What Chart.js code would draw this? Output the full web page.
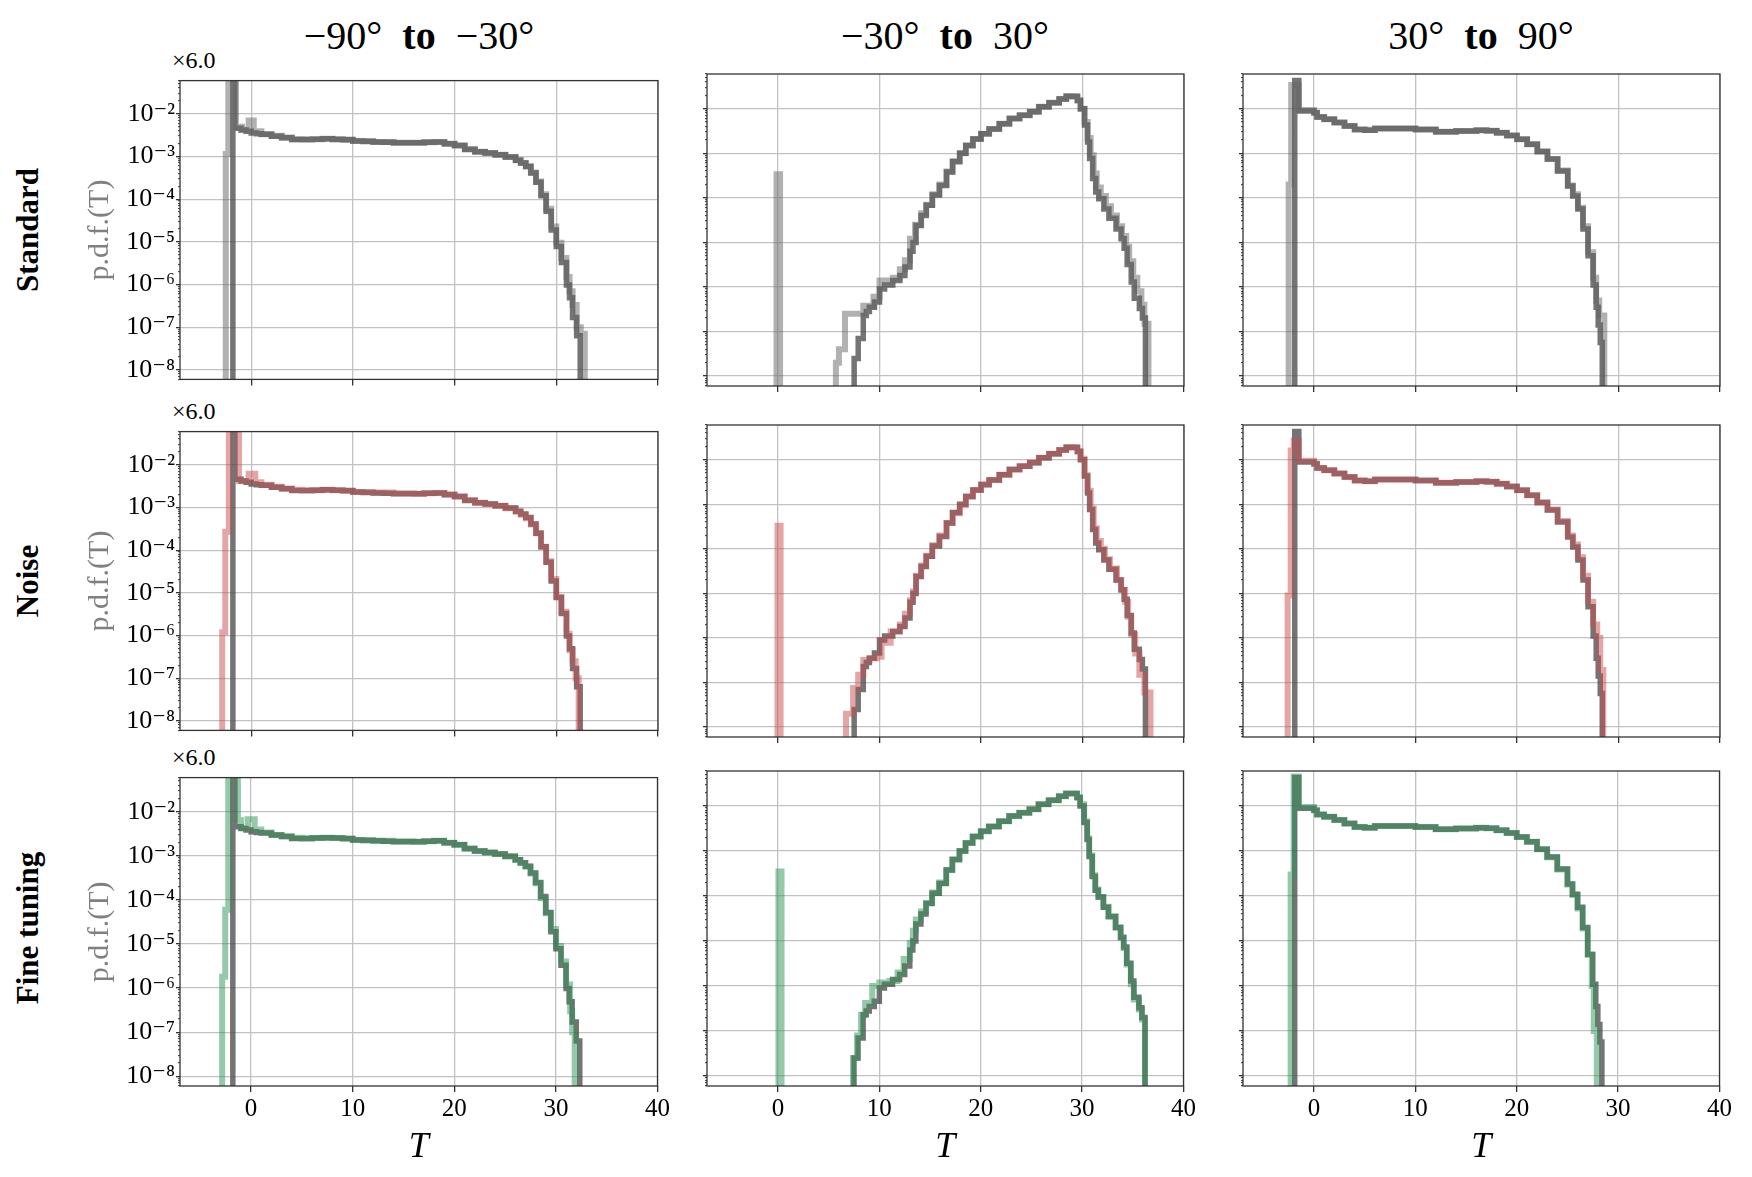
<!DOCTYPE html>
<html><head><meta charset="utf-8">
<script src="https://cdn.jsdelivr.net/npm/chart.js@4.4.1/dist/chart.umd.min.js"></script>
<style>
html,body{margin:0;padding:0;background:#fff;}
#fig{position:relative;width:1752px;height:1177px;overflow:hidden;background:#fff;}
#fig canvas{position:absolute;}
.coltitle{position:absolute;top:12px;font-family:'Liberation Serif','DejaVu Serif',serif;font-size:40px;line-height:48px;color:#000;white-space:nowrap;transform:translateX(-50%);}
.coltitle b{font-weight:bold;margin:0 20px;}
.rowlab{position:absolute;font-family:'Liberation Serif','DejaVu Serif',serif;font-weight:bold;font-size:31px;line-height:36px;white-space:nowrap;color:#000;transform:translate(-50%,-50%) rotate(-90deg);}
.offset{position:absolute;left:172px;font-family:'Liberation Serif','DejaVu Serif',serif;font-size:24px;line-height:24px;color:#000;white-space:nowrap;}
</style></head>
<body>
<div id="fig">
  <div class="coltitle" style="left:419px">−90°<b>to</b>−30°</div>
  <div class="coltitle" style="left:945px">−30°<b>to</b>30°</div>
  <div class="coltitle" style="left:1481px">30°<b>to</b>90°</div>
  <div class="rowlab" style="left:28px;top:230px">Standard</div>
  <div class="rowlab" style="left:28px;top:581px">Noise</div>
  <div class="rowlab" style="left:28px;top:928px">Fine tuning</div>
  <div class="offset" style="top:48px">×6.0</div>
  <div class="offset" style="top:399px">×6.0</div>
  <div class="offset" style="top:745px">×6.0</div>
</div>
<script>
// ---------------- data ----------------
// x tick values / labels
const xTicks = [0, 10, 20, 30, 40];
const xTickLabels = ['0', '10', '20', '30', '40'];
// y decade ticks / labels
const yDecades = [1e-8, 1e-7, 1e-6, 1e-5, 1e-4, 1e-3, 1e-2];
const yTickLabels = ['10⁻⁸', '10⁻⁷', '10⁻⁶', '10⁻⁵', '10⁻⁴', '10⁻³', '10⁻²'];

// Column A: -90° to -30°  (T = bin edges, p = p.d.f. value of the bin starting at that edge; 0 = empty)
const refA_T = [-1.8,-1.6,-1.0,-0.5,0,0.5,1,2,3,4,5,6,7,8,9,10,11,12,13,14,15,16,17,18,19,20,21,22,23,24,25,26,26.5,27,27.5,28,28.5,29,29.5,30,30.5,31,31.3,31.6,32,32.35];
const refA_p = [0.1,4.6e-3,4.2e-3,3.9e-3,3.55e-3,3.4e-3,3.3e-3,3.0e-3,2.75e-3,2.5e-3,2.5e-3,2.55e-3,2.6e-3,2.55e-3,2.5e-3,2.3e-3,2.25e-3,2.2e-3,2.15e-3,2.1e-3,2.1e-3,2.1e-3,2.15e-3,2.2e-3,2.0e-3,1.8e-3,1.45e-3,1.3e-3,1.2e-3,1.1e-3,9.8e-4,8.2e-4,7e-4,5.8e-4,4.1e-4,2.5e-4,1.2e-4,5.2e-5,1.9e-5,7.8e-6,3.3e-6,9.8e-7,4.9e-7,1.7e-7,6.3e-8,0];

const stdA_T = [-2.5,-2.25,-1.5,-0.9,-0.25,0.25,1,2,3,4,5,6,7,8,9,10,12,14,16,17,18,19,20,21,22,23,24,25,26,26.5,27,27.5,28,28.5,29,29.5,30,30.5,31,31.3,31.6,32.0,32.4,32.8];
const stdA_p = [1.15e-3,0.1,5.0e-3,4.3e-3,7.0e-3,3.9e-3,3.3e-3,3.05e-3,2.8e-3,2.55e-3,2.5e-3,2.55e-3,2.6e-3,2.5e-3,2.45e-3,2.3e-3,2.2e-3,2.1e-3,2.1e-3,2.15e-3,2.2e-3,2.0e-3,1.8e-3,1.5e-3,1.3e-3,1.2e-3,1.1e-3,9.8e-4,8.2e-4,7e-4,5.9e-4,4.2e-4,2.6e-4,1.3e-4,6e-5,2.3e-5,9.5e-6,4.2e-6,1.5e-6,7e-7,3.3e-7,1.0e-7,7e-8,0];

const noiseA_T = [-2.85,-2.55,-2.2,-1.2,-0.25,0.4,1,2,3,4,5,6,7,8,9,10,12,14,16,17,18,19,20,21,22,23,24,25,26,26.5,27,27.5,28,28.5,29,29.5,30,30.5,31,31.3,31.6,31.9,32.2];
const noiseA_p = [1.2e-6,2.7e-4,0.1,4.2e-3,6.2e-3,3.9e-3,3.4e-3,3.05e-3,2.8e-3,2.6e-3,2.5e-3,2.55e-3,2.6e-3,2.55e-3,2.45e-3,2.3e-3,2.25e-3,2.15e-3,2.1e-3,2.15e-3,2.2e-3,2.05e-3,1.8e-3,1.5e-3,1.3e-3,1.2e-3,1.1e-3,9.6e-4,8.0e-4,6.8e-4,5.6e-4,4.0e-4,2.5e-4,1.2e-4,5.5e-5,2.1e-5,8e-6,3.6e-6,1.1e-6,4.5e-7,2.5e-7,1.0e-7,0];

const fineA_T = [-2.85,-2.55,-2.25,-1.3,-1.0,-0.35,0.35,1,2,3,4,5,6,7,8,9,10,12,14,16,17,18,19,20,21,22,23,24,25,26,26.5,27,27.5,28,28.5,29,29.5,30,30.5,31,31.4,31.6,31.85];
const fineA_p = [1.8e-6,6e-5,0.1,6.5e-3,4.3e-3,6.8e-3,4.0e-3,3.4e-3,3.0e-3,2.8e-3,2.6e-3,2.5e-3,2.55e-3,2.6e-3,2.55e-3,2.45e-3,2.3e-3,2.2e-3,2.15e-3,2.1e-3,2.15e-3,2.2e-3,2.0e-3,1.8e-3,1.5e-3,1.3e-3,1.2e-3,1.1e-3,9.7e-4,8.1e-4,6.9e-4,5.7e-4,4.0e-4,2.4e-4,1.1e-4,5e-5,2.2e-5,9e-6,4e-6,1.2e-6,3e-7,1.0e-7,0];

// Column B: -30° to 30°
const refB_T = [7.5,7.9,8.4,8.7,9.0,9.5,10.0,10.5,11.3,12.0,12.5,13.0,13.3,13.6,14.1,14.6,15.2,15.9,16.6,17.2,17.9,18.5,19.2,20.0,20.8,21.8,22.8,23.8,24.8,25.7,26.7,27.7,28.4,29.0,29.5,29.8,30.2,30.5,30.7,31.0,31.3,31.6,32.1,32.6,33.3,33.8,34.1,34.4,34.8,35.1,35.6,35.9,36.2];
const refB_p = [2.5e-8,7e-8,2.3e-7,2.8e-7,3.5e-7,4.6e-7,9e-7,1.1e-6,1.4e-6,1.8e-6,2.8e-6,6.3e-6,1.0e-5,2.4e-5,4e-5,6.8e-5,1.15e-4,1.9e-4,3.8e-4,6.5e-4,1.0e-3,1.5e-3,2.1e-3,2.75e-3,3.5e-3,4.6e-3,6.0e-3,7.1e-3,8.5e-3,1.1e-2,1.35e-2,1.65e-2,1.9e-2,1.9e-2,1.55e-2,1.0e-2,4.3e-3,1.8e-3,7.6e-4,2.7e-4,1.35e-4,9.5e-5,5.6e-5,3.5e-5,2.0e-5,1.2e-5,7.4e-6,3.2e-6,1.3e-6,5.6e-7,3.3e-7,2.0e-7,0];

const stdB_T = [-0.15,0.2,5.7,6.0,6.6,8.4,9.4,10.0,11.3,12.0,12.5,13.0,13.5,14.1,14.6,15.2,15.9,16.6,17.2,17.9,18.5,19.2,20.0,20.8,21.8,22.8,23.8,24.8,25.7,26.7,27.7,28.4,29.0,29.5,29.8,30.2,30.5,30.8,31.1,31.4,31.8,32.3,32.8,33.4,33.9,34.3,34.6,35.0,35.4,35.8,36.1,36.5];
const stdB_p = [3.4e-4,0,2e-8,4e-8,2.5e-7,3.8e-7,6e-7,1.4e-6,1.6e-6,2.5e-6,4e-6,1.2e-5,2.5e-5,4.5e-5,7e-5,1.2e-4,2e-4,3.9e-4,6.5e-4,1.0e-3,1.5e-3,2.1e-3,2.75e-3,3.5e-3,4.6e-3,6.0e-3,7.1e-3,8.5e-3,1.1e-2,1.35e-2,1.65e-2,1.9e-2,1.85e-2,1.5e-2,1.0e-2,5e-3,2.2e-3,9e-4,3.5e-4,1.7e-4,1.1e-4,6.5e-5,4e-5,2.3e-5,1.4e-5,8e-6,3.8e-6,1.6e-6,8e-7,4e-7,1.5e-7,0];

const noiseB_T = [-0.05,0.25,6.7,7.4,7.9,8.4,9.0,9.7,10.2,10.5,11.1,12.0,12.5,13.0,13.3,13.6,14.1,14.6,15.2,15.9,16.6,17.2,17.9,18.5,19.2,20.0,20.8,21.8,22.8,23.8,24.8,25.7,26.7,27.7,28.4,29.0,29.5,29.8,30.2,30.5,30.8,31.1,31.4,31.8,32.2,32.7,33.4,33.8,34.2,34.5,34.8,35.2,35.6,36.1,36.7];
const noiseB_p = [3.3e-4,0,2e-8,7.5e-8,1.5e-7,3.2e-7,3.5e-7,3.8e-7,9e-7,7.8e-7,1.4e-6,2.0e-6,3.5e-6,7e-6,1.1e-5,2.5e-5,4.2e-5,7e-5,1.2e-4,2.0e-4,3.8e-4,6.3e-4,9.5e-4,1.5e-3,2.1e-3,2.8e-3,3.5e-3,4.6e-3,6.0e-3,7.2e-3,8.6e-3,1.1e-2,1.35e-2,1.65e-2,1.9e-2,1.85e-2,1.5e-2,1.05e-2,4.5e-3,2.0e-3,8e-4,2.9e-4,1.5e-4,1.0e-4,5.8e-5,3.6e-5,2.0e-5,1.2e-5,6.5e-6,3e-6,1.2e-6,4.5e-7,1.5e-7,6e-8,0];

const fineB_T = [0.05,0.35,7.4,7.8,8.2,8.6,9.3,10.0,11.0,11.8,12.4,13.0,13.3,13.6,14.1,14.6,15.2,15.9,16.6,17.2,17.9,18.5,19.2,20.0,20.8,21.8,22.8,23.8,24.8,25.7,26.7,27.7,28.4,29.0,29.5,29.8,30.2,30.5,30.7,31.0,31.3,31.6,32.1,32.6,33.3,33.8,34.1,34.4,34.8,35.1,35.6,35.9,36.2];
const fineB_p = [3.5e-4,0,2.5e-8,8e-8,2.3e-7,4.2e-7,1.0e-6,1.2e-6,1.3e-6,2.0e-6,4e-6,9e-6,1.7e-5,3e-5,4.5e-5,7e-5,1.2e-4,2.0e-4,3.8e-4,6.5e-4,1.0e-3,1.5e-3,2.1e-3,2.75e-3,3.5e-3,4.6e-3,6.0e-3,7.1e-3,8.5e-3,1.1e-2,1.35e-2,1.65e-2,1.9e-2,1.9e-2,1.55e-2,1.1e-2,4.6e-3,1.9e-3,8e-4,2.9e-4,1.4e-4,9.5e-5,5.8e-5,3.5e-5,2.0e-5,1.2e-5,7e-6,3e-6,1.1e-6,5e-7,3e-7,1.8e-7,0];

// Column C: 30° to 90°
const refC_T = [-1.9,-1.5,0,0.3,1,2,3,4,5,6,8,10,12,14,16,17,18,19,20,21,22,23,24,25,25.5,26,26.5,27,27.5,27.8,28.0,28.2,28.4];
const refC_p = [4.3e-2,8.9e-3,8.1e-3,6.5e-3,5.8e-3,4.9e-3,4.1e-3,3.4e-3,3.3e-3,3.6e-3,3.6e-3,3.4e-3,3.05e-3,3.15e-3,3.3e-3,3.2e-3,2.9e-3,2.5e-3,2.05e-3,1.6e-3,1.1e-3,7.4e-4,4e-4,1.85e-4,1.1e-4,5.6e-5,2e-5,5e-6,1.1e-6,3.5e-7,1.4e-7,5.7e-8,0];

const stdC_T = [-2.5,-2.25,-1.5,0,0.3,1,2,3,4,5,6,8,10,12,14,16,17,18,19,20,21,22,23,24,25,25.5,26,26.5,27,27.5,27.8,28.1,28.6];
const stdC_p = [2e-4,3.4e-2,9.3e-3,8.1e-3,6.5e-3,5.8e-3,4.9e-3,4.1e-3,3.4e-3,3.35e-3,3.6e-3,3.6e-3,3.4e-3,3.05e-3,3.15e-3,3.3e-3,3.2e-3,2.9e-3,2.5e-3,2.05e-3,1.6e-3,1.1e-3,7.4e-4,4.1e-4,1.9e-4,1.2e-4,6e-5,2.3e-5,6e-6,1.6e-6,5e-7,2.3e-7,0];

const noiseC_T = [-2.6,-2.3,-2.0,-1.5,0,0.3,1,2,3,4,5,6,8,10,12,14,16,17,18,19,20,21,22,23,24,25,25.5,26,26.5,27,27.5,27.9,28.2,28.5];
const noiseC_p = [9e-6,1.6e-2,2.7e-2,9.5e-3,8.1e-3,6.5e-3,5.8e-3,4.9e-3,4.1e-3,3.4e-3,3.3e-3,3.6e-3,3.6e-3,3.4e-3,3.05e-3,3.15e-3,3.3e-3,3.2e-3,2.9e-3,2.5e-3,2.05e-3,1.6e-3,1.1e-3,7.6e-4,4.2e-4,2e-4,1.25e-4,6.5e-5,2.5e-5,6.5e-6,2e-6,1e-6,1.9e-7,0];

const fineC_T = [-2.3,-2.0,-1.5,0,0.3,1,2,3,4,5,6,8,10,12,14,16,17,18,19,20,21,22,23,24,25,25.5,26,26.5,27,27.4,27.6,27.9];
const fineC_p = [3e-4,4.5e-2,9.5e-3,8.1e-3,6.5e-3,5.8e-3,4.9e-3,4.1e-3,3.4e-3,3.3e-3,3.6e-3,3.6e-3,3.4e-3,3.05e-3,3.15e-3,3.3e-3,3.2e-3,2.9e-3,2.5e-3,2.05e-3,1.6e-3,1.1e-3,7.3e-4,3.9e-4,1.8e-4,1.05e-4,5.3e-5,1.9e-5,5e-6,1e-6,1e-7,0];

// ---------------- drawing ----------------
const FAMILY = "'Liberation Serif','DejaVu Serif','Times New Roman',serif";
const FLOOR = 1e-12;
const YMIN = 6e-9, YMAX = 6e-2;

function histPoints(T, p) {
  const pts = [{x: T[0], y: FLOOR}];
  for (let i = 0; i < T.length; i++) pts.push({x: T[i], y: p[i] > 0 ? p[i] : FLOOR});
  return pts;
}
function isDecade(v) {
  const l = Math.log10(v);
  return Math.abs(l - Math.round(l)) < 1e-6;
}
function decadeLabel(v) {
  for (let i = 0; i < yDecades.length; i++) {
    if (Math.abs(v - yDecades[i]) / yDecades[i] < 1e-6) return yTickLabels[i];
  }
  return '';
}
const yTickValues = [];
for (let k = -9; k <= -2; k++) {
  for (let m = 1; m <= 9; m++) {
    const v = m * Math.pow(10, k);
    if (v >= YMIN * 0.999 && v <= YMAX * 1.001) yTickValues.push(v);
  }
}

const framePlugin = {
  id: 'frame',
  afterDraw(chart) {
    const {ctx, chartArea: a} = chart;
    ctx.save();
    ctx.strokeStyle = '#333';
    ctx.lineWidth = 1.3;
    ctx.strokeRect(a.left, a.top, a.right - a.left, a.bottom - a.top);
    ctx.restore();
  }
};

const colLeft = [180, 707, 1243];
const colWidth = [478, 477, 477];
const rowTop = [74, 425, 771];
const rowHeight = [312, 312, 315];

const refSeries = [[refA_T, refA_p], [refB_T, refB_p], [refC_T, refC_p]];
const modelSeries = [
  [[stdA_T, stdA_p], [stdB_T, stdB_p], [stdC_T, stdC_p]],
  [[noiseA_T, noiseA_p], [noiseB_T, noiseB_p], [noiseC_T, noiseC_p]],
  [[fineA_T, fineA_p], [fineB_T, fineB_p], [fineC_T, fineC_p]]
];
const modelColors = ['rgba(100,100,100,0.5)', 'rgba(200,75,75,0.5)', 'rgba(45,145,85,0.5)'];
const refColor = 'rgba(70,70,70,0.75)';

const fig = document.getElementById('fig');

for (let r = 0; r < 3; r++) {
  for (let c = 0; c < 3; c++) {
    const yW = c === 0 ? 120 : 8;
    const xH = r === 2 ? 91 : 10;
    const padTop = 10, padRight = 14;
    const W = yW + colWidth[c] + padRight;
    const H = padTop + rowHeight[r] + xH;
    const cv = document.createElement('canvas');
    cv.width = W; cv.height = H;
    cv.style.width = W + 'px'; cv.style.height = H + 'px';
    cv.style.left = (colLeft[c] - yW) + 'px';
    cv.style.top = (rowTop[r] - padTop) + 'px';
    fig.appendChild(cv);

    const [mT, mP] = modelSeries[r][c];
    const [rT, rP] = refSeries[c];

    new Chart(cv, {
      type: 'line',
      data: {
        datasets: [
          {data: histPoints(mT, mP), borderColor: modelColors[r], borderWidth: 6, stepped: 'before',
           pointRadius: 0, clip: 0, order: 0, fill: false, borderJoinStyle: 'miter', borderCapStyle: 'butt'},
          {data: histPoints(rT, rP), borderColor: refColor, borderWidth: 5.5, stepped: 'before',
           pointRadius: 0, clip: 0, order: 1, fill: false, borderJoinStyle: 'miter', borderCapStyle: 'butt'}
        ]
      },
      options: {
        responsive: false,
        animation: false,
        events: [],
        layout: {padding: {top: padTop, right: padRight, left: 0, bottom: 0}},
        plugins: {legend: {display: false}, tooltip: {enabled: false}, title: {display: false}},
        scales: {
          x: {
            type: 'linear', min: -7, max: 40,
            afterBuildTicks: s => { s.ticks = xTicks.map(v => ({value: v})); },
            afterFit: s => { s.height = xH; },
            border: {display: false},
            grid: {color: '#c2c2c2', lineWidth: 1.3, drawTicks: true, tickLength: 6, tickColor: '#333', tickWidth: 1.3},
            ticks: {display: r === 2, autoSkip: false, maxRotation: 0, padding: 2, color: '#000',
                    font: {family: FAMILY, size: 25},
                    callback: v => { const i = xTicks.indexOf(v); return i >= 0 ? xTickLabels[i] : ''; }},
            title: {display: r === 2, text: 'T', color: '#000', font: {family: FAMILY, size: 36, style: 'italic'},
                    padding: {top: 0, bottom: 8}}
          },
          y: {
            type: 'logarithmic', min: YMIN, max: YMAX,
            afterBuildTicks: s => { s.ticks = yTickValues.map(v => ({value: v})); },
            afterFit: s => { s.width = yW; },
            border: {display: false},
            grid: {
              color: ctx => (ctx.tick && isDecade(ctx.tick.value)) ? '#c2c2c2' : 'rgba(0,0,0,0)',
              lineWidth: 1.3, drawTicks: true, tickLength: 4, tickColor: '#333',
              tickWidth: ctx => (ctx.tick && isDecade(ctx.tick.value)) ? 1.3 : 1,
              tickBorderDash: ctx => (ctx.tick && isDecade(ctx.tick.value)) ? [] : [2, 2],
              tickBorderDashOffset: ctx => (ctx.tick && isDecade(ctx.tick.value)) ? 0 : 2
            },
            ticks: {display: c === 0, autoSkip: false, padding: 1, color: '#000',
                    font: {family: FAMILY, size: 26},
                    callback: v => decadeLabel(v)},
            title: {display: c === 0, text: 'p.d.f.(T)', color: '#808080', font: {family: FAMILY, size: 30},
                    padding: {top: 22, bottom: 0}}
          }
        }
      },
      plugins: [framePlugin]
    });
  }
}
</script>
</body></html>
